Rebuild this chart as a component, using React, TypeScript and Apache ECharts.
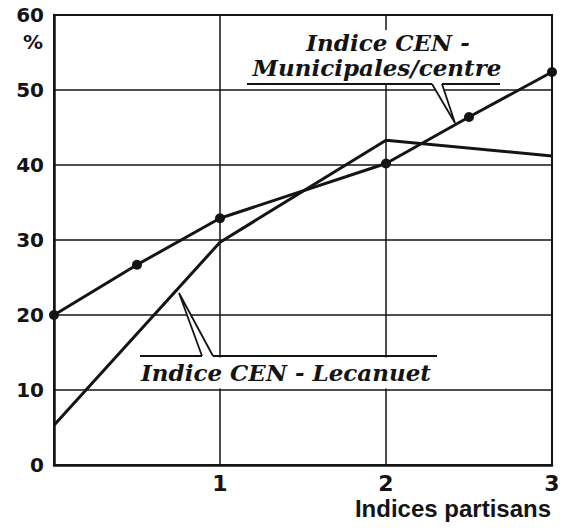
import React, { useEffect, useRef } from "react";
import * as echarts from "echarts";

const municipalesX = [0, 0.5, 1, 2, 2.5, 3];
const municipalesY = [20, 26.7, 32.9, 40.2, 46.4, 52.4];
const lecanuetX = [0, 1, 2, 3];
const lecanuetY = [5.3, 29.7, 43.3, 41.2];
const yTicks = [0, 10, 20, 30, 40, 50, 60];
const xTicks = [0, 1, 2, 3];

const labelMunicipales1 = "Indice CEN -";
const labelMunicipales2 = "Municipales/centre";
const labelLecanuet = "Indice CEN - Lecanuet";
const xAxisName = "Indices partisans";
const yUnit = "%";

const INK = "#141414";
const SERIF = "'DejaVu Serif', serif";
const SANS = "'DejaVu Sans', sans-serif";

export default function App() {
  const ref = useRef<HTMLDivElement>(null);
  useEffect(() => {
    document.body.style.margin = "0";
    const chart = echarts.init(ref.current!, null, { renderer: "svg" });
    const lineStyle = { stroke: INK, lineWidth: 1.8 };
    chart.setOption({
      animation: false,
      backgroundColor: "#ffffff",
      grid: {
        left: 54,
        right: 19,
        top: 15,
        bottom: 65,
        show: true,
        borderColor: INK,
        borderWidth: 2,
        outerBoundsMode: "none",
      },
      xAxis: {
        type: "value",
        min: xTicks[0],
        max: xTicks[xTicks.length - 1],
        interval: 1,
        axisLine: { show: true, onZero: false, lineStyle: { color: INK, width: 2.5 } },
        axisTick: { show: false },
        splitLine: { show: true, lineStyle: { color: INK, width: 1.5 } },
        axisLabel: {
          color: INK,
          fontFamily: SANS,
          fontWeight: "bold",
          fontSize: 22,
          margin: 7,
          formatter: (v: number) => (v === 0 ? "" : String(v)),
        },
      },
      yAxis: {
        type: "value",
        min: yTicks[0],
        max: yTicks[yTicks.length - 1],
        interval: 10,
        axisLine: { show: true, onZero: false, lineStyle: { color: INK, width: 2.5 } },
        axisTick: { show: false },
        splitLine: { show: true, lineStyle: { color: INK, width: 1.5 } },
        axisLabel: {
          color: INK,
          fontFamily: SANS,
          fontWeight: "bold",
          fontSize: 20,
          margin: 10,
        },
      },
      series: [
        {
          name: "Municipales",
          type: "line",
          data: municipalesX.map((x, i) => [x, municipalesY[i]]),
          symbol: "circle",
          symbolSize: 10,
          clip: false,
          itemStyle: { color: INK },
          lineStyle: { color: INK, width: 3 },
          z: 3,
        },
        {
          name: "Lecanuet",
          type: "line",
          data: lecanuetX.map((x, i) => [x, lecanuetY[i]]),
          symbol: "none",
          clip: false,
          lineStyle: { color: INK, width: 3 },
          z: 2,
        },
      ],
      graphic: [
        // white backdrops
        { type: "rect", z: 1, shape: { x: 250, y: 30, width: 252, height: 53 }, style: { fill: "#fff" } },
        { type: "rect", z: 1, shape: { x: 138, y: 357.5, width: 300, height: 31 }, style: { fill: "#fff" } },
        // wedges fill
        { type: "polygon", z: 1, shape: { points: [[432, 84], [455, 123], [442, 84]] }, style: { fill: "#fff" } },
        { type: "polygon", z: 1, shape: { points: [[202, 356], [179, 293], [213, 356]] }, style: { fill: "#fff" } },
        // underlines
        { type: "line", z: 4, shape: { x1: 247, y1: 84, x2: 432, y2: 84 }, style: lineStyle },
        { type: "line", z: 4, shape: { x1: 442, y1: 84, x2: 500, y2: 84 }, style: lineStyle },
        { type: "line", z: 4, shape: { x1: 140, y1: 356, x2: 202, y2: 356 }, style: lineStyle },
        { type: "line", z: 4, shape: { x1: 213, y1: 356, x2: 437, y2: 356 }, style: lineStyle },
        // wedge edges
        { type: "polyline", z: 4, shape: { points: [[432, 84], [455, 123], [442, 84]] }, style: { ...lineStyle, fill: null } },
        { type: "polyline", z: 4, shape: { points: [[202, 356], [179, 293], [213, 356]] }, style: { ...lineStyle, fill: null } },
        // labels
        {
          type: "text", z: 4, x: 388, y: 42,
          style: { text: labelMunicipales1, font: `italic bold 23px ${SERIF}`, fill: INK, textAlign: "center", textVerticalAlign: "middle" },
        },
        {
          type: "text", z: 4, x: 377, y: 67,
          style: { text: labelMunicipales2, font: `italic bold 23px ${SERIF}`, fill: INK, textAlign: "center", textVerticalAlign: "middle" },
        },
        {
          type: "text", z: 4, x: 286, y: 372,
          style: { text: labelLecanuet, font: `italic bold 23px ${SERIF}`, fill: INK, textAlign: "center", textVerticalAlign: "middle" },
        },
        {
          type: "text", z: 4, x: 43, y: 42,
          style: { text: yUnit, font: `bold 20px ${SANS}`, fill: INK, textAlign: "right", textVerticalAlign: "middle" },
        },
        {
          type: "text", z: 4, x: 551, y: 508,
          style: { text: xAxisName, font: `bold 24px 'Liberation Sans', Arial, sans-serif`, fill: INK, textAlign: "right", textVerticalAlign: "middle" },
        },
      ],
    });
    return () => chart.dispose();
  }, []);
  return <div ref={ref} style={{ width: 571, height: 530, background: "#fff" }} />;
}
